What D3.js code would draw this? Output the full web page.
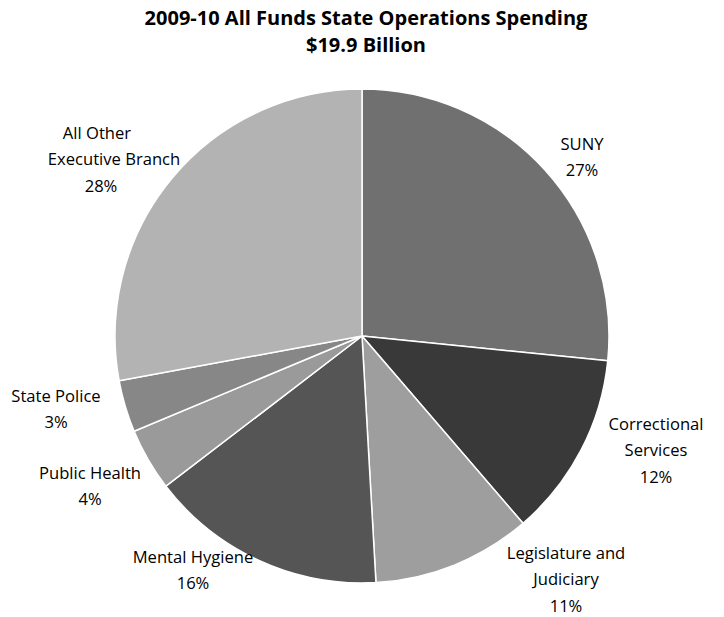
<!DOCTYPE html>
<html><head><meta charset="utf-8">
<script src="https://cdn.jsdelivr.net/npm/d3@7"></script>
<style>body{margin:0;background:#fff;} svg{display:block;}</style>
</head><body>
<svg id="c" width="724" height="617"></svg>
<script>
const categories = ["SUNY","Correctional Services","Legislature and Judiciary","Mental Hygiene","Public Health","State Police","All Other Executive Branch"];
const values = [26.6, 12.1, 10.4, 15.5, 4.1, 3.4, 27.9];
const pctLabels = ["27%","12%","11%","16%","4%","3%","28%"];
const labelLines = [["SUNY"],["Correctional","Services"],["Legislature and","Judiciary"],["Mental Hygiene"],["Public Health"],["State Police"],["All Other","Executive Branch"]];
const colors = ["#707070","#393939","#9e9e9e","#555555","#9a9a9a","#878787","#b3b3b3"];
const titleLines = ["2009-10 All Funds State Operations Spending","$19.9 Billion"];

// layout (not data)
const cx = 362, cy = 336, R = 247;
const labelPos = [[582,144],[656,424],[566,553],[193,557],[90,473],[56,396],[[97,114],133]];
const lineH = 26.3;

const svg = d3.select("#c");
const font = "'Open Sans', sans-serif";

svg.selectAll("text.title").data(titleLines).join("text")
  .attr("x", 366).attr("y", (d,i)=>25+i*27)
  .attr("text-anchor","middle").attr("font-family",font)
  .attr("font-weight","bold").attr("font-size",20).attr("fill","#000")
  .text(d=>d);

const pie = d3.pie().sort(null).value(d=>d)(values);
const arc = d3.arc().innerRadius(0).outerRadius(R);
const g = svg.append("g").attr("transform",`translate(${cx},${cy})`);
g.selectAll("path").data(pie).join("path")
  .attr("d",arc).attr("fill",(d,i)=>colors[i])
  .attr("stroke","#fff").attr("stroke-width",1.5).attr("stroke-linejoin","round");

categories.forEach((c,i)=>{
  const lines = labelLines[i].concat([pctLabels[i]]);
  const t = svg.append("text").attr("text-anchor","middle")
    .attr("font-family",font).attr("font-size",16.6).attr("fill","#000");
  const px = labelPos[i][0], py = labelPos[i][1];
  lines.forEach((l,j)=>{
    const x = Array.isArray(px) ? (j===1 ? px[1] : (j===2 ? 101 : px[0])) : px;
    t.append("tspan").attr("x",x).attr("y",py+6+j*lineH).text(l);
  });
});
</script>
</body></html>
